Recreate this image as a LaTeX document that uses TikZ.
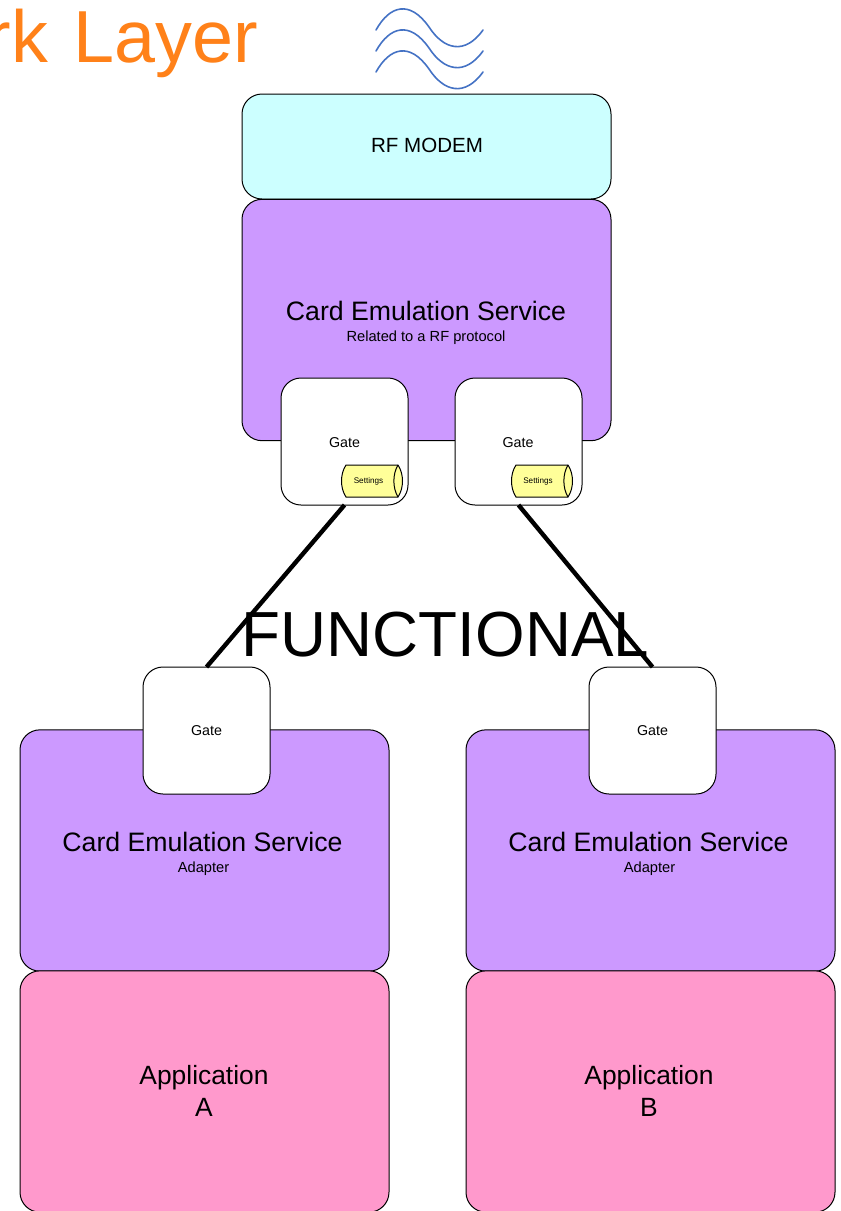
\documentclass[tikz,border=0pt]{standalone}
\usepackage{fontspec}
\setmainfont{Liberation Sans}
\definecolor{modemcol}{HTML}{CCFFFF}
\definecolor{servicecol}{HTML}{CC99FF}
\definecolor{appcol}{HTML}{FF99CC}
\definecolor{settingscol}{HTML}{FFFF99}
\definecolor{titlecol}{HTML}{FF8119}
\definecolor{wavecol}{HTML}{4472C4}
\tikzset{
    block/.style={draw,line width=0.75pt,rounded corners=15pt,inner sep=0pt,outer sep=0pt,minimum width=276.75pt},
    modem/.style={block,fill=modemcol,minimum height=78.75pt},
    service/.style={block,fill=servicecol,minimum height=181pt},
    app/.style={block,fill=appcol,minimum height=181pt},
    rflabel/.style={inner sep=0pt,font=\fontsize{15.4pt}{18pt}\selectfont},
    svclabel/.style={inner sep=0pt,font=\fontsize{20pt}{24pt}\selectfont},
    sublabel/.style={inner sep=0pt,font=\fontsize{11pt}{13pt}\selectfont},
    applabel/.style={inner sep=0pt,align=center,font=\fontsize{19.8pt}{24pt}\selectfont},
    gate/.style={draw,line width=0.75pt,fill=white,rounded corners=15pt,inner sep=0pt,outer sep=0pt,minimum size=95.25pt,font=\fontsize{10.7pt}{13pt}\selectfont},
    gatelabel/.style={inner sep=0pt,font=\fontsize{10.7pt}{13pt}\selectfont},
    settings/.style={draw,line width=0.75pt,fill=settingscol},
    setlabel/.style={inner sep=0pt,font=\fontsize{6.1pt}{7pt}\selectfont},
    wave/.style={wavecol,line width=1.2pt,line cap=round},
    link/.style={black,line width=3.3pt},
}
\begin{document}
\begin{tikzpicture}[x=0.75pt,y=-0.75pt]
    \useasboundingbox (0,0) rectangle (841,1211);

    \node[anchor=east,text=titlecol,font=\fontsize{55.3pt}{60pt}\selectfont](title)at(263,43){rk\hspace{4pt} Layer};

    \foreach \dy in {0,21,42}
        \draw[wave] (376,30+\dy) .. controls (390,5+\dy) and (410,0+\dy) .. (429,27+\dy) .. controls (444,50+\dy) and (465,55+\dy) .. (483,30+\dy);

    \node[modem](rf)at(426.5,146.5){};
    \node[rflabel](rftext)at(427,145){RF MODEM};
    \node[service](svc)at(426.5,320){};
    \node[svclabel](svctext)at(426,311){Card Emulation Service};
    \node[sublabel](svcsub)at(426,338){Related to a RF protocol};
    \node[gate](gt1)at(344.5,441.5){};
    \node[gate](gt2)at(518.5,441.5){};
    \node[gatelabel](gt1text)at(344.5,443){Gate};
    \node[gatelabel](gt2text)at(518,443){Gate};

    % settings drums inside the two upper gates
    \foreach \sx in {0,170}{
        \draw[settings] (346+\sx,465) -- (398+\sx,465) .. controls (404+\sx,474) and (404+\sx,488) .. (398+\sx,497) -- (346+\sx,497) .. controls (340+\sx,488) and (340+\sx,474) .. (346+\sx,465) -- cycle;
        \draw[settings,fill=none] (398+\sx,465) .. controls (392.5+\sx,474) and (392.5+\sx,488) .. (398+\sx,497);
    }
    \node[setlabel](set1)at(368.5,481.5){Settings};
    \node[setlabel](set2)at(538,481.5){Settings};

    \node[service](svcA)at(204.5,850.5){};
    \node[service](svcB)at(650.5,850.5){};
    \node[svclabel](svcAtext)at(202.5,842){Card Emulation Service};
    \node[svclabel](svcBtext)at(648.5,842){Card Emulation Service};
    \node[sublabel](svcAsub)at(203.5,869){Adapter};
    \node[sublabel](svcBsub)at(649.5,869){Adapter};
    \node[app](appA)at(204.5,1091.5){};
    \node[app](appB)at(650.5,1091.5){};
    \node[applabel](appAtext)at(204,1090.5){Application\\A};
    \node[applabel](appBtext)at(649,1090.5){Application\\B};
    \node[gate](gtA)at(206.5,730.5){Gate};
    \node[gate](gtB)at(652.5,730.5){Gate};

    \draw[link] (gt1.south) -- (gtA.north);
    \draw[link] (gt2.south) -- (gtB.north);

    \node[font=\fontsize{47.8pt}{50pt}\selectfont](func)at(445.5,635){FUNCTIONAL};
\end{tikzpicture}
\end{document}
